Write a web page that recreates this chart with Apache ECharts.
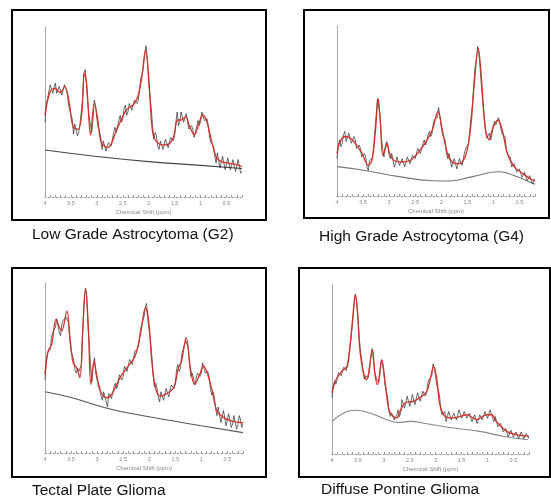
<!DOCTYPE html>
<html>
<head>
<meta charset="utf-8">
<script src="https://cdn.jsdelivr.net/npm/echarts@6/dist/echarts.min.js"></script>
<style>
html,body{margin:0;padding:0;background:#fff;}
#main{width:551px;height:497px;}
</style>
</head>
<body>
<div id="main"></div>
<script>
// chemical shift sample points (ppm) for the raw spectra
var ppm = [4.00,3.95,3.90,3.85,3.80,3.75,3.70,3.65,3.60,3.55,3.50,3.45,3.40,3.35,3.30,3.25,3.20,3.15,3.10,3.05,
    3.00,2.95,2.90,2.85,2.80,2.75,2.70,2.65,2.60,2.55,2.50,2.45,2.40,2.35,2.30,2.25,2.20,2.15,2.10,2.05,
    2.00,1.95,1.90,1.85,1.80,1.75,1.70,1.65,1.60,1.55,1.50,1.45,1.40,1.35,1.30,1.25,1.20,1.15,1.10,1.05,
    1.00,0.95,0.90,0.85,0.80,0.75,0.70,0.65,0.60,0.55,0.50,0.45,0.40,0.35,0.30,0.25,0.20];
// in-between sample points
var ppmMid = [3.975,3.925,3.875,3.825,3.775,3.725,3.675,3.625,3.575,3.525,3.475,3.425,3.375,3.325,3.275,3.225,3.175,3.125,3.075,3.025,
    2.975,2.925,2.875,2.825,2.775,2.725,2.675,2.625,2.575,2.525,2.475,2.425,2.375,2.325,2.275,2.225,2.175,2.125,2.075,2.025,
    1.975,1.925,1.875,1.825,1.775,1.725,1.675,1.625,1.575,1.525,1.475,1.425,1.375,1.325,1.275,1.225,1.175,1.125,1.075,1.025,
    0.975,0.925,0.875,0.825,0.775,0.725,0.675,0.625,0.575,0.525,0.475,0.425,0.375,0.325,0.275,0.225];
var tickLabels = [4, 3.5, 3, 2.5, 2, 1.5, 1, 0.5];
var minorTicks = [4,3.9,3.8,3.7,3.6,3.5,3.4,3.3,3.2,3.1,3,2.9,2.8,2.7,2.6,2.5,2.4,2.3,2.2,2.1,2,
    1.9,1.8,1.7,1.6,1.5,1.4,1.3,1.2,1.1,1,0.9,0.8,0.7,0.6,0.5,0.4,0.3,0.2];

// raw (noisy) spectra
var dataG2 = [44,58,66,61,67,60,64,61,67,55,50,37,42,38,50,73,66,47,38,57,46,39,28,33,26,32,31,41,39,48,
    46,54,50,56,52,58,57,70,77,89,67,52,34,36,28,34,29,33,30,36,36,50,44,49,45,48,39,40,34,45,
    44,51,44,42,32,30,20,25,18,23,17,22,17,21,16,21,15];
var midG2 = [55,57,65,62,61,65,60,66,62,51, 46,43,36,43,58,75,55,43,45,54, 41,35,33,27,32,30,38,38,45,44,
    52,48,55,51,57,55,64,72,84,81, 60,42,38,30,33,28,34,29,35,33, 44,42,50,44,49,40,42,35,41,42,
    50,45,46,35,33,24,26,17,24,16, 23,16,22,15,22,14];
var dataG4 = [22,33,31,38,33,36,30,33,27,28,22,23,15,21,27,47,58,35,23,32,24,25,17,23,18,22,17,23,19,24,
    22,28,25,31,30,36,35,43,45,52,41,37,25,25,17,22,16,22,18,26,27,39,54,76,88,74,55,38,35,33,
    42,42,46,39,37,27,24,17,19,14,16,11,14,9,12,7,10];
var midG4 = [30,29,36,32,37,31,35,28,30,23, 25,17,21,22,38,57,48,28,29,30, 22,24,19,23,17,22,18,24,19,25,
    22,29,26,33,31,38,37,45,46,47, 36,33,22,24,17,22,16,23,19,28, 31,47,66,80,83,63,48,34,37,36,
    44,42,45,36,35,24,23,16,18,13, 16,11,14,9,12,8];
var dataTectal = [43,59,61,71,74,78,69,78,80,77,60,55,47,48,52,90,94,64,42,56,43,39,31,36,27,35,33,41,40,47,
    45,52,48,55,53,61,64,75,80,88,72,57,39,38,30,36,32,38,34,40,41,52,50,61,66,62,45,44,40,48,
    47,54,46,45,34,33,22,26,19,24,16,22,17,21,16,20,17];
var midTectal = [54,58,68,70,79,71,76,77,81,67, 60,49,50,47,72,97,74,51,51,47, 44,34,36,30,35,32,39,38,46,43,
    51,48,55,52,60,61,71,76,86,78, 66,46,41,33,36,31,38,33,40,38, 49,48,58,62,66,52,47,40,47,45,
    53,47,48,38,36,26,27,18,25,16, 23,15,22,14,22,15];
var dataPontine = [33,43,44,49,47,52,50,64,78,94,81,60,48,46,45,58,55,45,42,55,47,37,25,24,20,23,22,32,27,34,
    28,35,29,36,31,37,34,42,43,53,45,38,26,24,19,25,20,24,20,26,21,25,21,24,19,23,18,23,20,25,
    21,26,21,22,16,18,13,15,10,14,10,13,9,13,9,12,9];
var midPontine = [40,41,48,46,51,49,58,70,88,90, 69,55,44,47,50,62,48,44,47,53, 40,33,22,25,19,26,24,33,26,35,
    27,36,29,37,31,38,36,44,46,50, 40,34,23,25,19,24,19,25,19,26, 20,26,20,25,19,23,18,24,20,26,
    21,25,19,21,15,17,12,15,10,14, 9,14,9,13,8,12];

// fitted spectra [ppm, value]
var fitG2 = [[4.00,48.2],[3.90,62],[3.81,63.9],[3.71,61.4],[3.62,64.9],[3.53,55.1],[3.46,41.4],[3.36,39.8],[3.29,49.2],
    [3.24,72.7],[3.20,67.8],[3.12,36.5],[3.05,55.1],[2.99,47.3],[2.91,31.6],[2.78,29.2],[2.62,39.4],[2.43,51.2],
    [2.30,54.1],[2.21,59],[2.14,68.8],[2.06,86.5],[2.01,74.7],[1.98,61],[1.92,37.5],[1.82,31.6],[1.66,30.6],
    [1.53,34.5],[1.44,45.3],[1.37,45.3],[1.29,47.3],[1.21,41.4],[1.12,36.5],[1.03,43.3],[0.96,48.2],[0.89,45.3],
    [0.79,33.5],[0.70,23.7],[0.60,20.8],[0.44,19.8],[0.28,18.8],[0.20,17.8]];
var fitG4 = [[4.00,25],[3.94,32],[3.84,35],[3.74,34],[3.65,31],[3.52,25],[3.40,18],[3.33,21],[3.26,39],[3.21,57.5],
    [3.17,44.7],[3.12,24],[3.07,28],[3.04,31],[2.99,25],[2.91,21],[2.75,20],[2.59,21],[2.43,26],[2.27,33],[2.17,39],
    [2.06,49.6],[1.98,39],[1.88,25],[1.79,20],[1.66,19],[1.53,24],[1.44,39],[1.37,64],[1.29,87],[1.22,66],[1.16,41],
    [1.08,33],[1.02,39],[0.91,44.7],[0.83,39],[0.73,25],[0.60,17.3],[0.44,13.3],[0.25,9.4],[0.20,9]];
var fitTectal = [[4.00,46.3],[3.94,60],[3.87,64],[3.79,78.6],[3.72,73.7],[3.68,71.8],[3.58,83.5],[3.52,67.8],[3.46,53],
    [3.39,50],[3.33,44.3],[3.28,69.8],[3.22,96.3],[3.17,75.7],[3.12,40.4],[3.06,54],[3.01,46.3],[2.94,36.5],[2.81,32.5],
    [2.72,34.5],[2.56,44.3],[2.40,51.2],[2.27,57],[2.17,69.8],[2.07,85.5],[2.01,77.6],[1.95,54],[1.88,38.4],[1.79,33.5],
    [1.69,34.5],[1.53,38.4],[1.44,50],[1.38,54],[1.29,67.8],[1.21,50],[1.13,40.4],[1.03,46.3],[0.96,51.2],[0.89,47.3],
    [0.79,36.5],[0.70,24.7],[0.57,20.8],[0.41,18.8],[0.20,17.8]];
var fitPontine = [[4.00,35.9],[3.94,42.7],[3.84,47.6],[3.74,50.6],[3.70,51.6],[3.65,64.3],[3.60,80],[3.55,93.7],[3.51,84],
    [3.46,60.4],[3.39,47.6],[3.33,43.7],[3.28,50.6],[3.22,61.4],[3.17,46.7],[3.12,40.8],[3.04,55.5],[2.97,40.8],[2.91,27],
    [2.85,23.1],[2.75,21.2],[2.69,25],[2.59,30],[2.43,31],[2.27,33.9],[2.17,36.9],[2.10,44.7],[2.04,51.6],[1.98,44.7],
    [1.92,29],[1.82,22.2],[1.66,21.2],[1.40,23.1],[1.21,20.2],[1.02,23.1],[0.92,23.1],[0.83,19.2],[0.63,13.3],
    [0.44,11.4],[0.20,10.4]];

// baselines [ppm, value]
var baseG2 = [[4,27.6],[3,23.8],[2,20.8],[1,18.6],[0.2,16.8]];
var baseG4 = [[4,17.3],[3.46,15],[2.81,11.4],[2.17,9],[1.85,8.8],[1.4,11.4],[0.89,14.3],[0.63,12.4],[0.25,7.5],[0.2,7]];
var baseTectal = [[4,36],[3.5,32.6],[2.81,26.3],[2.17,22.2],[1.53,18.8],[1,16],[0.2,12]];
var basePontine = [[4,19.2],[3.78,24],[3.55,25.7],[3.26,24],[2.94,20.2],[2.72,18.6],[2.49,19.2],[2.17,17.8],
    [1.66,15.3],[1.15,13.3],[0.7,10.4],[0.22,8.4]];

var captions = ["Low Grade Astrocytoma (G2)", "High Grade Astrocytoma (G4)", "Tectal Plate Glioma", "Diffuse Pontine Glioma"];

var myChart = echarts.init(document.getElementById("main"));

var panels = [
    {left: 45, top: 27, width: 197, data: dataG2, mid: midG2, fit: fitG2, base: baseG2, baseColor: "#444"},
    {left: 337, top: 26, width: 198, data: dataG4, mid: midG4, fit: fitG4, base: baseG4, baseColor: "#777"},
    {left: 45, top: 283, width: 198, data: dataTectal, mid: midTectal, fit: fitTectal, base: baseTectal, baseColor: "#555"},
    {left: 332, top: 284, width: 197, data: dataPontine, mid: midPontine, fit: fitPontine, base: basePontine, baseColor: "#888"}
];

var grids = [], xAxes = [], yAxes = [], series = [];
for (var i = 0; i < panels.length; i++) {
    var p = panels[i];
    grids.push({left: p.left, top: p.top, width: p.width, height: 170, outerBoundsMode: "none"});
    xAxes.push({
        type: "value", gridIndex: i, min: 0.2, max: 4, inverse: true,
        name: "Chemical Shift (ppm)", nameLocation: "middle", nameGap: 12,
        nameTextStyle: {fontSize: 6, color: "#888", fontFamily: "Liberation Sans"},
        axisLine: {show: true, lineStyle: {color: "#999", width: 1, type: [2, 2]}},
        axisTick: {show: true, customValues: minorTicks, length: 2, inside: true, lineStyle: {color: "#999"}},
        axisLabel: {customValues: tickLabels, fontSize: 5.5, color: "#888", margin: 3, fontFamily: "Liberation Sans"},
        splitLine: {show: false}
    });
    yAxes.push({
        type: "value", gridIndex: i, min: 0, max: 100,
        axisLine: {show: true, lineStyle: {color: "#aaa", width: 1}},
        axisTick: {show: false}, axisLabel: {show: false}, splitLine: {show: false}
    });
    // interleave the two sample sets into one trace
    var raw = [];
    for (var k = 0; k < ppm.length; k++) {
        raw.push([ppm[k], p.data[k]]);
        if (k < ppmMid.length) raw.push([ppmMid[k], p.mid[k]]);
    }
    series.push({
        type: "line", xAxisIndex: i, yAxisIndex: i, data: p.base, smooth: 0.5, showSymbol: false,
        lineStyle: {color: p.baseColor, width: 1.1}, z: 2
    });
    series.push({
        type: "line", xAxisIndex: i, yAxisIndex: i, data: raw, showSymbol: false,
        lineStyle: {color: "#2b2b2b", width: 0.7}, z: 3
    });
    series.push({
        type: "line", xAxisIndex: i, yAxisIndex: i, data: p.fit, smooth: 0.35, showSymbol: false,
        lineStyle: {color: "#d42a22", width: 1.3, opacity: 0.95}, z: 4
    });
}

// frames and captions
var graphic = [
    {type: "rect", shape: {x: 12, y: 10, width: 254, height: 210}, style: {fill: null, stroke: "#000", lineWidth: 2}},
    {type: "rect", shape: {x: 304, y: 10, width: 245, height: 208}, style: {fill: null, stroke: "#000", lineWidth: 2}},
    {type: "rect", shape: {x: 12, y: 268, width: 254, height: 209}, style: {fill: null, stroke: "#000", lineWidth: 2}},
    {type: "rect", shape: {x: 299, y: 268, width: 251, height: 209}, style: {fill: null, stroke: "#000", lineWidth: 2}}
];
var capPos = [[32, 235], [319, 237], [32, 491], [321, 490]];
for (var c = 0; c < captions.length; c++) {
    graphic.push({
        type: "text", x: capPos[c][0], y: capPos[c][1],
        style: {text: captions[c], fill: "#111", font: "15.5px 'Liberation Sans'", textVerticalAlign: "middle"}
    });
}

option = {
    animation: false,
    backgroundColor: "#fff",
    grid: grids,
    xAxis: xAxes,
    yAxis: yAxes,
    series: series,
    graphic: graphic
};
myChart.setOption(option);
</script>
</body>
</html>
